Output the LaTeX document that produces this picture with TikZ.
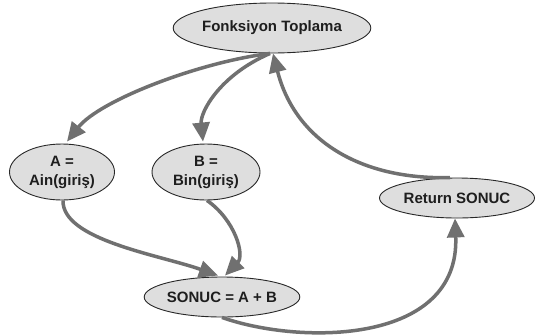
\documentclass[tikz,border=0pt]{standalone}
\usepackage{fontspec}
\setmainfont{Liberation Sans}
\usetikzlibrary{shapes.geometric,arrows.meta}
\definecolor{linegray}{RGB}{112,112,112}
\definecolor{nodefill}{RGB}{222,222,222}
\definecolor{nodeborder}{RGB}{40,40,40}
\definecolor{textdark}{RGB}{30,30,30}
\tikzset{
  bubble/.style={ellipse, draw=nodeborder, line width=0.9pt, fill=nodefill,
    inner sep=0pt, align=center, text=textdark,
    font=\fontsize{15}{19}\selectfont\bfseries},
  flow/.style={draw=linegray, line width=3.5pt,
    -{Triangle[length=19pt,width=17pt,fill=linegray]}}
}
\begin{document}
\begin{tikzpicture}[x=1pt,y=-1pt]
\useasboundingbox[fill=white] (0,0) rectangle (537,335);
\node[bubble, minimum width=165pt, minimum height=50pt] (fonk) at (272,28) {Fonksiyon Toplama};
\node[bubble, minimum width=105pt, minimum height=56pt] (a) at (62,172) {A =\\Ain(giriş)};
\node[bubble, minimum width=108pt, minimum height=56pt] (b) at (206,172) {B =\\Bin(giriş)};
\node[bubble, minimum width=155pt, minimum height=40pt] (ret) at (457,198) {Return SONUC};
\node[bubble, minimum width=151pt, minimum height=40pt] (sonuc) at (222,297) {SONUC = A + B};
\draw[flow] ([xshift=-2pt]fonk.south) .. controls (200,62) and (100,100) .. ([xshift=5pt,yshift=2pt]a.north);
\draw[flow] ([xshift=-2pt]fonk.south) .. controls (220,75) and (200,112) .. ([xshift=-3pt,yshift=2pt]b.north);
\draw[flow] ([xshift=1pt]a.south) .. controls (62,240) and (160,255) .. ([xshift=-4pt,yshift=1pt]sonuc.north);
\draw[flow] ([xshift=1pt]b.south) .. controls (235,220) and (245,255) .. ([xshift=3pt,yshift=1pt]sonuc.north);
\draw[flow] (sonuc.south) .. controls (300,345) and (460,345) .. ([xshift=-2pt]ret.south);
\draw[flow] ([xshift=-7pt]ret.north) .. controls (360,180) and (295,140) .. ([xshift=1pt]fonk.south);
\end{tikzpicture}
\end{document}
